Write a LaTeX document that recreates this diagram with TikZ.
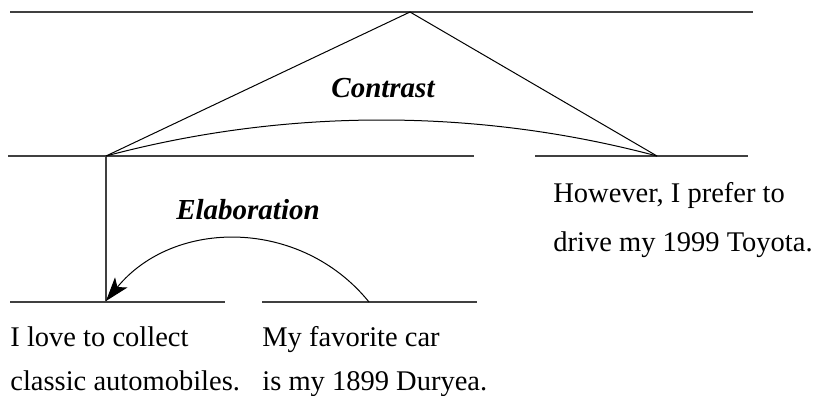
\documentclass[tikz,border=0pt]{standalone}
\usepackage{fontspec}
\setmainfont{Liberation Serif}
\usetikzlibrary{arrows.meta}
\begin{document}
\begin{tikzpicture}[x=0.5pt,y=-0.5pt,
  hline/.style={draw=black!75,line width=0.75pt},
  thin/.style={draw=black,line width=0.5pt},
  txt/.style={anchor=base west,inner sep=0pt,font=\fontsize{14.25}{17}\selectfont},
  rel/.style={anchor=base,inner sep=0pt,font=\fontsize{14.5}{17}\selectfont\bfseries\itshape}]
\useasboundingbox (0,0) rectangle (819,396);
% coordinates
\coordinate (t1) at (10,12);
\coordinate (t2) at (753,12);
\coordinate (apex) at (410,12);
\coordinate (ml1) at (8,156);
\coordinate (ml2) at (474,156);
\coordinate (mr1) at (535,156);
\coordinate (mr2) at (748,156);
\coordinate (L) at (106,156);
\coordinate (R) at (657,156);
\coordinate (bl1) at (10,302);
\coordinate (bl2) at (225,302);
\coordinate (br1) at (262,302);
\coordinate (br2) at (477,302);
\coordinate (vb) at (106,302);
\coordinate (es) at (369,302);
\coordinate (ee) at (106,301);
% horizontal lines
\draw[hline] (t1) -- (t2);
\draw[hline] (ml1) -- (ml2);
\draw[hline] (mr1) -- (mr2);
\draw[hline] (bl1) -- (bl2);
\draw[hline] (br1) -- (br2);
\draw[hline] (L) -- (vb);
% contrast
\draw[thin] (L) -- (apex) -- (R);
\draw[thin] (L) .. controls (286,108) and (477,108) .. (R);
% elaboration
\draw[thin,-{Stealth[length=12pt,width=8pt,inset=3pt]}] (es) .. controls (301,218) and (174,218) .. (ee);
% labels
\node[rel] (contrast) at (383,97) {Contrast};
\node[rel] (elab) at (248,219) {Elaboration};
\node[txt] (a1) at (10,346) {I love to collect};
\node[txt] (a2) at (10,390) {classic automobiles.};
\node[txt] (b1) at (262,346) {My favorite car};
\node[txt] (b2) at (262,390) {is my 1899 Duryea.};
\node[txt] (c1) at (553,202) {However, I prefer to};
\node[txt] (c2) at (553,251) {drive my 1999 Toyota.};
\end{tikzpicture}
\end{document}
